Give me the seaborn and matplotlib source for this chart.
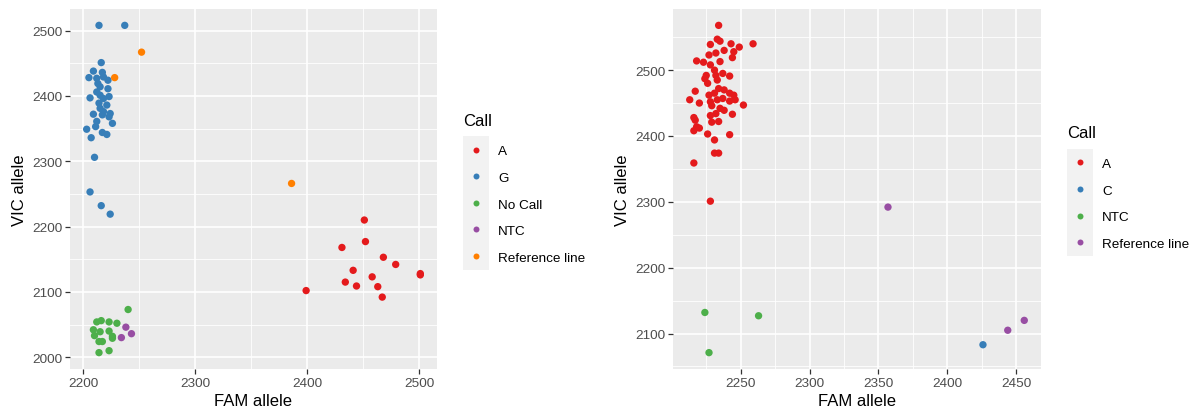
import pandas as pd
import seaborn as sns
from matplotlib import pyplot as plt
from matplotlib.lines import Line2D
from matplotlib.patches import Rectangle
from matplotlib.ticker import MultipleLocator

plt.rcParams['font.family'] = ['Liberation Sans', 'DejaVu Sans']

# ---- plate 1 (left) : FAM / VIC allele per call ----
p1_A_fam = [2451, 2452, 2431, 2468, 2479, 2441, 2501, 2501, 2458, 2434, 2444, 2463, 2399, 2467]
p1_A_vic = [2210, 2177, 2168, 2153, 2142, 2133, 2128, 2126, 2123, 2115, 2109, 2108, 2102, 2092]

p1_G_fam = [2214, 2237, 2216, 2209, 2217, 2205, 2212, 2218, 2222, 2213, 2215, 2212, 2222,
            2206, 2215, 2223, 2218, 2214, 2221, 2215, 2218, 2224, 2209, 2217, 2223,
            2212, 2226, 2211, 2203, 2217, 2221, 2207, 2210, 2206, 2216, 2224]
p1_G_vic = [2508, 2508, 2451, 2438, 2436, 2428, 2427, 2429, 2424, 2419, 2414, 2406, 2411,
            2397, 2401, 2399, 2396, 2389, 2386, 2381, 2376, 2373, 2372, 2371, 2368,
            2361, 2358, 2353, 2349, 2344, 2341, 2336, 2306, 2253, 2232, 2219]

p1_NoCall_fam = [2240, 2212, 2216, 2223, 2230, 2209, 2215, 2223, 2210, 2226, 2226, 2214, 2217, 2214, 2223]
p1_NoCall_vic = [2073, 2054, 2056, 2054, 2052, 2042, 2039, 2040, 2033, 2032, 2029, 2024, 2024, 2007, 2010]

p1_NTC_fam = [2238, 2243, 2234]
p1_NTC_vic = [2046, 2036, 2030]

p1_Ref_fam = [2252, 2228, 2386]
p1_Ref_vic = [2467, 2428, 2266]

# ---- plate 2 (right) ----
p2_A_fam = [2234, 2259, 2228, 2233, 2235, 2243, 2249, 2238, 2245, 2227, 2232, 2244, 2218,
            2223, 2235, 2228, 2231, 2225, 2224, 2232, 2237, 2242, 2226, 2233, 2217, 2234,
            2238, 2227, 2231, 2242, 2245, 2213, 2220, 2228, 2233, 2237, 2242, 2246, 2252,
            2229, 2235, 2238, 2232, 2244, 2228, 2216, 2217, 2229, 2234, 2218, 2220, 2216,
            2226, 2242, 2231, 2231, 2234, 2216, 2228]
p2_A_vic = [2568, 2540, 2539, 2547, 2544, 2540, 2535, 2530, 2528, 2523, 2526, 2519, 2514,
            2512, 2513, 2508, 2500, 2492, 2487, 2492, 2495, 2491, 2480, 2485, 2468, 2472,
            2470, 2462, 2465, 2465, 2462, 2455, 2450, 2452, 2455, 2457, 2453, 2455, 2447,
            2446, 2442, 2439, 2434, 2433, 2431, 2428, 2424, 2421, 2422, 2414, 2412, 2408,
            2403, 2402, 2394, 2374, 2374, 2359, 2301]

p2_C_fam = [2426]
p2_C_vic = [2083]

p2_NTC_fam = [2224, 2263, 2227]
p2_NTC_vic = [2132, 2127, 2071]

p2_Ref_fam = [2357, 2444, 2456]
p2_Ref_vic = [2292, 2105, 2120]

p1_calls = ['A', 'G', 'No Call', 'NTC', 'Reference line']
p2_calls = ['A', 'C', 'NTC', 'Reference line']

SET1 = sns.color_palette('Set1', 5)


def make_frame(groups):
    parts = [pd.DataFrame({'FAM': f, 'VIC': v, 'Call': c}) for c, f, v in groups]
    return pd.concat(parts, ignore_index=True)


df1 = make_frame([('A', p1_A_fam, p1_A_vic), ('G', p1_G_fam, p1_G_vic),
                  ('No Call', p1_NoCall_fam, p1_NoCall_vic), ('NTC', p1_NTC_fam, p1_NTC_vic),
                  ('Reference line', p1_Ref_fam, p1_Ref_vic)])
df2 = make_frame([('A', p2_A_fam, p2_A_vic), ('C', p2_C_fam, p2_C_vic),
                  ('NTC', p2_NTC_fam, p2_NTC_vic), ('Reference line', p2_Ref_fam, p2_Ref_vic)])


def expand(values, frac=0.05):
    # ggplot style 5% padding on both ends
    lo, hi = min(values), max(values)
    pad = (hi - lo) * frac
    return lo - pad, hi + pad


def draw_panel(ax, df, order, xmajor, ymajor):
    pal = SET1[:len(order)]
    sns.scatterplot(data=df, x='FAM', y='VIC', hue='Call', hue_order=order, palette=pal,
                    s=28, linewidth=0, ax=ax, legend=False, zorder=3)
    ax.set_xlim(*expand(df['FAM']))
    ax.set_ylim(*expand(df['VIC']))
    ax.xaxis.set_major_locator(MultipleLocator(xmajor))
    ax.yaxis.set_major_locator(MultipleLocator(ymajor))
    ax.xaxis.set_minor_locator(MultipleLocator(xmajor / 2))
    ax.yaxis.set_minor_locator(MultipleLocator(ymajor / 2))
    ax.set_facecolor('#EBEBEB')
    ax.set_axisbelow(True)
    ax.grid(which='major', color='white', lw=1.2)
    ax.grid(which='minor', color='white', lw=0.6)
    for s in ax.spines.values():
        s.set_visible(False)
    ax.tick_params(which='major', length=3.5, width=0.9, color='#333333',
                   labelsize=9.7, labelcolor='#4D4D4D', pad=2)
    ax.tick_params(which='minor', length=0)
    ax.set_xlabel('FAM allele', fontsize=12, labelpad=3)
    ax.set_ylabel('VIC allele', fontsize=12, labelpad=3.5)
    return pal


def add_legend(ax, order, pal, anchor):
    handles = [Line2D([], [], ls='', marker='o', ms=4.3, mew=0, color=c) for c in pal]
    leg = ax.legend(handles, order, title='Call', loc='upper left', bbox_to_anchor=anchor,
                    bbox_transform=fig.transFigure, frameon=False, fontsize=9.7,
                    title_fontsize=12, borderpad=0, borderaxespad=0, handlelength=1.93,
                    handletextpad=0.67, labelspacing=1.05, alignment='left')
    leg._legend_box.sep = 12.4  # gap between title and keys, points
    return leg


W, H = 1195, 410
fig = plt.figure(figsize=(W / 100, H / 100), dpi=100)
ax1 = fig.add_axes([70 / W, 1 - 370 / H, 367 / W, 360 / H])
ax2 = fig.add_axes([673 / W, 1 - 370 / H, 368 / W, 360 / H])

pal1 = draw_panel(ax1, df1, p1_calls, 100, 100)
pal2 = draw_panel(ax2, df2, p2_calls, 50, 100)

add_legend(ax1, p1_calls, pal1, (463 / W, 1 - 113.7 / H))
add_legend(ax2, p2_calls, pal2, (1067 / W, 1 - 126.5 / H))

# grey background behind the legend keys
fig.patches.append(Rectangle((463 / W, 1 - 271 / H), 26 / W, 134 / H, transform=fig.transFigure,
                             facecolor='#F2F2F2', edgecolor='none', zorder=-1))
fig.patches.append(Rectangle((1067 / W, 1 - 257 / H), 26 / W, 107 / H, transform=fig.transFigure,
                             facecolor='#F2F2F2', edgecolor='none', zorder=-1))

fig.savefig('out.png', dpi=100)
